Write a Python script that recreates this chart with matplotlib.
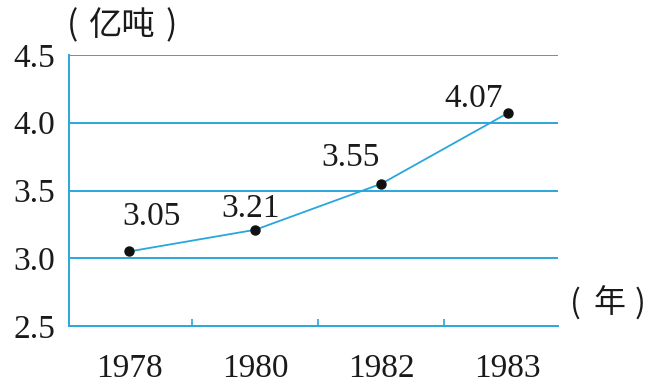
import matplotlib
matplotlib.use("Agg")
import matplotlib.pyplot as plt

years = ["1978", "1980", "1982", "1983"]
values = [3.05, 3.21, 3.55, 4.07]
value_labels = ["3.05", "3.21", "3.55", "4.07"]
yticks = [2.5, 3.0, 3.5, 4.0, 4.5]
ytick_labels = ["2.5", "3.0", "3.5", "4.0", "4.5"]
y_unit = "亿吨"
x_unit = "年"

blue = "#2aa6dc"
txt = "#1a1a1a"
serif = ["Liberation Serif", "DejaVu Serif"]
cjk = ["Noto Sans CJK SC", "DejaVu Sans"]

fig = plt.figure(figsize=(6.57, 3.91), dpi=100)
ax = fig.add_axes([69/657, 1-326/391, (558-69)/657, (326-55)/391])

x = list(range(len(years)))
ax.plot(x, values, color=blue, lw=1.3, zorder=2)
ax.plot(x, values, 'o', color="#111111", ms=6.5, zorder=3)

ax.set_xlim(-0.476, 3.40)
ax.set_ylim(2.5, 4.5)

for yv in yticks[1:]:
    ax.axhline(yv, color=blue, lw=1.4, zorder=1)

for s in ["top", "right"]:
    ax.spines[s].set_visible(False)
for s in ["left", "bottom"]:
    ax.spines[s].set_color(blue)
    ax.spines[s].set_linewidth(1.4)

ax.set_yticks(yticks)
ax.set_yticklabels(ytick_labels, family=serif, fontsize=24, color=txt)
ax.tick_params(axis="y", length=0, pad=10)
ax.set_xticks(x)
ax.set_xticklabels(years, family=serif, fontsize=24, color=txt)
ax.tick_params(axis="x", length=0, pad=20)
ax.set_xticks([0.5, 1.5, 2.5], minor=True)
ax.tick_params(axis="x", which="minor", direction="in", length=5, width=1.2, color=blue)

offsets = [(22, 35), (-5, 21), (-31, 26), (-34, 15)]
for xi, v, lab, off in zip(x, values, value_labels, offsets):
    ax.annotate(lab, (xi, v), xytext=off, textcoords="offset pixels",
                ha="center", va="center", family=serif, fontsize=24, color=txt)

def unit_label(cx, left_x, right_x, cy, s, size):
    y = 1 - cy/391
    fig.text(left_x/657, y, "(", family=cjk, fontsize=size, ha="center", va="center", color=txt)
    fig.text(cx/657, y, s, family=cjk, fontsize=size, ha="center", va="center", color=txt)
    fig.text(right_x/657, y, ")", family=cjk, fontsize=size, ha="center", va="center", color=txt)

unit_label(122, 72, 171, 26, y_unit, 24)
unit_label(609, 575, 640, 303, x_unit, 23)

fig.savefig("out.png", dpi=100)
